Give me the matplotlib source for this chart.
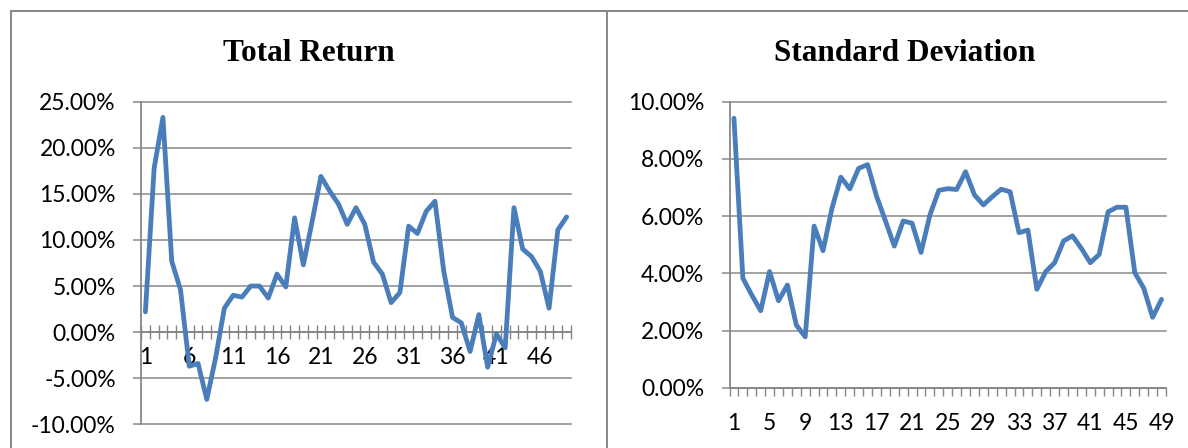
import matplotlib
matplotlib.use("Agg")
import matplotlib.pyplot as plt
from matplotlib.lines import Line2D
from matplotlib.ticker import FixedLocator, FuncFormatter
import numpy as np

# Period numbers 1..49
periods = list(range(1, 50))

# Total return per period (%)
total_return = [
    2.2, 17.8, 23.3, 7.7, 4.6, -3.7, -3.4, -7.3, -2.8, 2.6,
    4.0, 3.8, 5.0, 5.0, 3.7, 6.3, 4.9, 12.4, 7.3, 12.0,
    16.9, 15.3, 13.9, 11.7, 13.5, 11.7, 7.6, 6.3, 3.2, 4.3,
    11.5, 10.7, 13.1, 14.2, 6.6, 1.6, 1.0, -2.1, 1.9, -3.8,
    -0.2, -1.7, 13.5, 9.0, 8.2, 6.6, 2.6, 11.1, 12.5,
]

# Standard deviation per period (%)
std_dev = [
    9.42, 3.83, 3.24, 2.69, 4.06, 3.04, 3.59, 2.19, 1.78, 5.65,
    4.79, 6.27, 7.36, 6.95, 7.67, 7.80, 6.70, 5.84, 4.95, 5.83,
    5.75, 4.73, 6.04, 6.90, 6.96, 6.93, 7.55, 6.74, 6.39, 6.68,
    6.94, 6.85, 5.42, 5.51, 3.44, 4.06, 4.37, 5.13, 5.31, 4.87,
    4.37, 4.66, 6.15, 6.31, 6.31, 4.02, 3.48, 2.46, 3.09,
]

left_yticks = [-10, -5, 0, 5, 10, 15, 20, 25]
right_yticks = [0, 2, 4, 6, 8, 10]
left_xlabels = list(range(1, 50, 5))
right_xlabels = list(range(1, 50, 4))

W, H = 1188, 448
DPI = 100
LINE_BLUE = "#4A7EBB"
GRID = "#868686"
PX = 72.0 / DPI  # points per pixel

fig = plt.figure(figsize=(W / DPI, H / DPI), dpi=DPI)
fig.patch.set_facecolor("white")

label_font = dict(family=["Lato", "DejaVu Sans"], size=16.5, color="black")
title_font = dict(family=["Liberation Serif", "DejaVu Serif"], size=22.5,
                  weight="bold", color="black")


def px_box(x0, x1, y_top, y_bottom):
    return [x0 / W, (H - y_bottom) / H, (x1 - x0) / W, (y_bottom - y_top) / H]


pct = FuncFormatter(lambda v, _: f"{v:.2f}%")


def style_axes(ax, yticks, xlabels, xaxis_at_zero, xtick_dir, xtick_len, xpad):
    ax.set_facecolor("none")
    ax.set_xlim(0.5, len(periods) + 0.5)
    ax.set_ylim(yticks[0], yticks[-1])
    for s in ("top", "right"):
        ax.spines[s].set_visible(False)
    for s in ("left", "bottom"):
        ax.spines[s].set_color(GRID)
        ax.spines[s].set_linewidth(1.8 * PX)
    if xaxis_at_zero:
        ax.spines["bottom"].set_position(("data", 0))
    # horizontal gridlines
    for v in yticks:
        ax.axhline(v, color=GRID, lw=1.5 * PX, clip_on=False, zorder=0.5)
    ax.yaxis.set_major_locator(FixedLocator(yticks))
    ax.yaxis.set_major_formatter(pct)
    ax.tick_params(axis="y", which="major", direction="out", length=8.5 * PX,
                   width=1.5 * PX, color=GRID, pad=12.0)
    # category labels
    ax.xaxis.set_major_locator(FixedLocator(xlabels))
    ax.set_xticklabels([str(v) for v in xlabels])
    ax.tick_params(axis="x", which="major", length=0, pad=xpad)
    # tick marks on category boundaries
    ax.xaxis.set_minor_locator(FixedLocator(np.arange(0.5, len(periods) + 1, 1.0)))
    ax.tick_params(axis="x", which="minor", direction=xtick_dir,
                   length=xtick_len * PX, width=1.4 * PX, color=GRID)
    for lab in ax.get_xticklabels() + ax.get_yticklabels():
        lab.set_fontfamily(label_font["family"])
        lab.set_fontsize(label_font["size"])
        lab.set_color(label_font["color"])


# Left panel: Total Return
ax1 = fig.add_axes(px_box(141, 571, 101.7, 424.3))
ax1.plot(periods, total_return, color=LINE_BLUE, lw=4.8 * PX,
         solid_joinstyle="round", solid_capstyle="round", zorder=3, clip_on=False)
style_axes(ax1, left_yticks, left_xlabels, True, "inout", 13.5, 10.5)

# Right panel: Standard Deviation
ax2 = fig.add_axes(px_box(729.5, 1166, 101.7, 387.7))
ax2.plot(periods, std_dev, color=LINE_BLUE, lw=4.8 * PX,
         solid_joinstyle="round", solid_capstyle="round", zorder=3, clip_on=False)
style_axes(ax2, right_yticks, right_xlabels, False, "out", 7.5, 18.0)

# Titles
fig.text(308.5 / W, (H - 61) / H, "Total Return", ha="center", va="baseline", **title_font)
fig.text(905 / W, (H - 61) / H, "Standard Deviation", ha="center", va="baseline", **title_font)

# Frame around the two charts
frame_kw = dict(color="#898989", lw=2.0 * PX, transform=fig.transFigure)
fig.add_artist(Line2D([11 / W, 1.0], [(H - 11) / H, (H - 11) / H], **frame_kw))
fig.add_artist(Line2D([11 / W, 11 / W], [0, (H - 11) / H], **frame_kw))
fig.add_artist(Line2D([606.7 / W, 606.7 / W], [0, (H - 11) / H], **frame_kw))

fig.savefig("out.png", dpi=DPI, facecolor="white")
